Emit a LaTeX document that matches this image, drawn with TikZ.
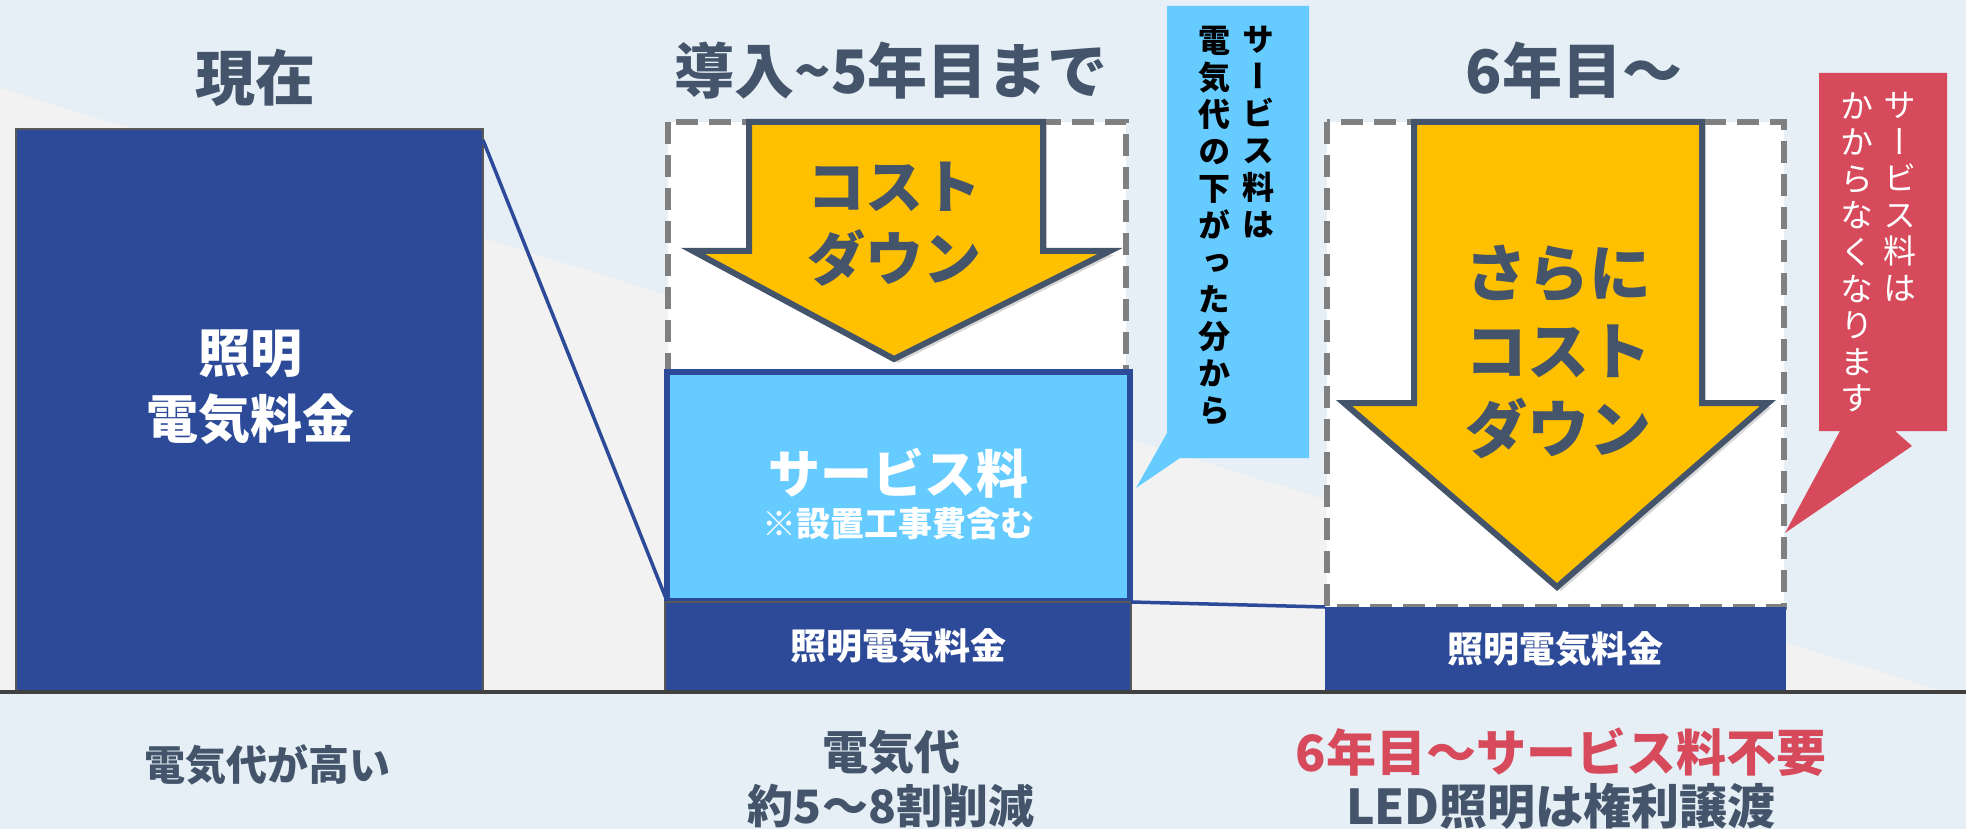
\documentclass[tikz,border=0pt]{standalone}
\usepackage{fontspec}
\setmainfont{Noto Sans CJK JP}
\newfontfamily\vertfont[RawFeature=+vert]{Noto Sans CJK JP}
\usetikzlibrary{shadows}
\definecolor{barblue}{HTML}{2C4A98}
\definecolor{svcblue}{HTML}{66CCFF}
\definecolor{gold}{HTML}{FFC000}
\definecolor{slate}{HTML}{44546A}
\definecolor{warnred}{HTML}{D64A5B}
\definecolor{skyback}{HTML}{E6EFF5}
\definecolor{greyback}{HTML}{F2F2F2}
\definecolor{dashgrey}{HTML}{808080}
\begin{document}
\begin{tikzpicture}[x=1pt, y=-1pt,
    title/.style={text=slate, font=\bfseries\fontsize{60}{64}\selectfont},
    foot/.style 2 args={text=slate, font=\bfseries\fontsize{#1}{#2}\selectfont, align=center},
    bar/.style={fill=barblue, draw=black!65, line width=1.5pt, anchor=north west, inner sep=0pt, outer sep=0pt},
    barlabel/.style 2 args={text=white, font=\bfseries\fontsize{#1}{#2}\selectfont, align=center},
    frame/.style={draw=dashgrey, fill=white, line width=6pt, dash pattern=on 22pt off 11pt},
    bigarrow/.style={fill=gold, draw=slate, line width=6pt, drop shadow={shadow xshift=4pt, shadow yshift=-4pt, opacity=.3}},
    arrowlabel/.style 2 args={text=slate, font=\bfseries\fontsize{#1}{#2}\selectfont, align=center},
    vcol/.style 2 args={text=#1, font=\vertfont#2, align=center, anchor=north, inner sep=0pt},
    link/.style={draw=barblue, line width=3.5pt}
  ]
  \useasboundingbox (0,0) rectangle (1966,829);
  \fill[skyback] (0,0) rectangle (1966,829);
  \fill[greyback] (0,88) -- (1945,692) -- (0,692) -- cycle;

  % titles
  \node[title] (tnow) at (255,78) {現在};
  \node[title] (tmid) at (891,71) {導入\textasciitilde 5年目まで};
  \node[title] (tlate) at (1574,71) {6年目〜};

  % now
  \node[bar, minimum width=467, minimum height=562] (now) at (16,129) {};
  \node[barlabel={52}{66}] (nowlabel) at (250,387) {照明\\電気料金};

  % first five years
  \draw[frame] (668,122) rectangle (1126,372);
  \draw[bigarrow] (749,122) -- (1043,122) -- (1043,251) -- (1110,251) -- (894,359) -- (693,251) -- (749,251) -- cycle;
  \node[arrowlabel={58}{72}] (costdown) at (894,224) {コスト\\ダウン};
  \node[bar, fill=svcblue, draw=barblue, line width=6pt, minimum width=463, minimum height=229] (svc) at (667,372) {};
  \node[barlabel={52}{56}] (svclabel) at (898,473) {サービス料};
  \node[barlabel={34}{38}] (svcnote) at (898,524) {※設置工事費含む};
  \node[bar, minimum width=466, minimum height=89] (mid) at (665,602) {};
  \node[barlabel={36}{40}] (midlabel) at (mid.center) {照明電気料金};

  % from year six
  \draw[frame] (1327,122) rectangle (1784,607);
  \draw[bigarrow] (1414,122) -- (1702,122) -- (1702,403) -- (1768,403) -- (1557,587) -- (1344,403) -- (1414,403) -- cycle;
  \node[arrowlabel={62}{78}] (morecost) at (1558,352) {さらに\\コスト\\ダウン};
  \node[bar, draw=none, minimum width=461, minimum height=85] (late) at (1325,607) {};
  \node[barlabel={36}{40}] (latelabel) at (late.center) {照明電気料金};

  \draw[link] ([yshift=-11pt]now.north east) -- (svc.south west);
  \draw[link] (mid.north east) -- (late.north west);

  % callouts
  \fill[svcblue] (1167,6) -- (1309,6) -- (1309,458) -- (1180,458) -- (1136,488) -- (1167,433) -- cycle;
  \node[vcol={black}{\bfseries\fontsize{32}{37}\selectfont}] (blueright) at (1258,26) {サ\\ー\\ビ\\ス\\料\\は};
  \node[vcol={black}{\bfseries\fontsize{32}{37}\selectfont}] (blueleft) at (1214,26) {電\\気\\代\\の\\下\\が\\っ\\た\\分\\か\\ら};
  \fill[warnred] (1819,73) -- (1947,73) -- (1947,431) -- (1895,431) -- (1912,446) -- (1785,533) -- (1840,431) -- (1819,431) -- cycle;
  \node[vcol={white}{\fontsize{33}{36.6}\selectfont}] (redright) at (1900,92) {サ\\ー\\ビ\\ス\\料\\は};
  \node[vcol={white}{\fontsize{33}{36.6}\selectfont}] (redleft) at (1857,92) {か\\か\\ら\\な\\く\\な\\り\\ま\\す};

  % ground line and captions
  \draw[draw=black!75, line width=4pt] (0,692) -- (1966,692);
  \node[foot={41}{46}] (fnow) at (267,765) {電気代が高い};
  \node[foot={46}{54}] (fmid) at (891,779) {電気代\\約5〜8割削減};
  \node[foot={50}{54}, text=warnred] (flatehead) at (1561,752) {6年目〜サービス料不要};
  \node[foot={48}{54}] (flatenote) at (1561,806) {LED照明は権利譲渡};
\end{tikzpicture}
\end{document}
